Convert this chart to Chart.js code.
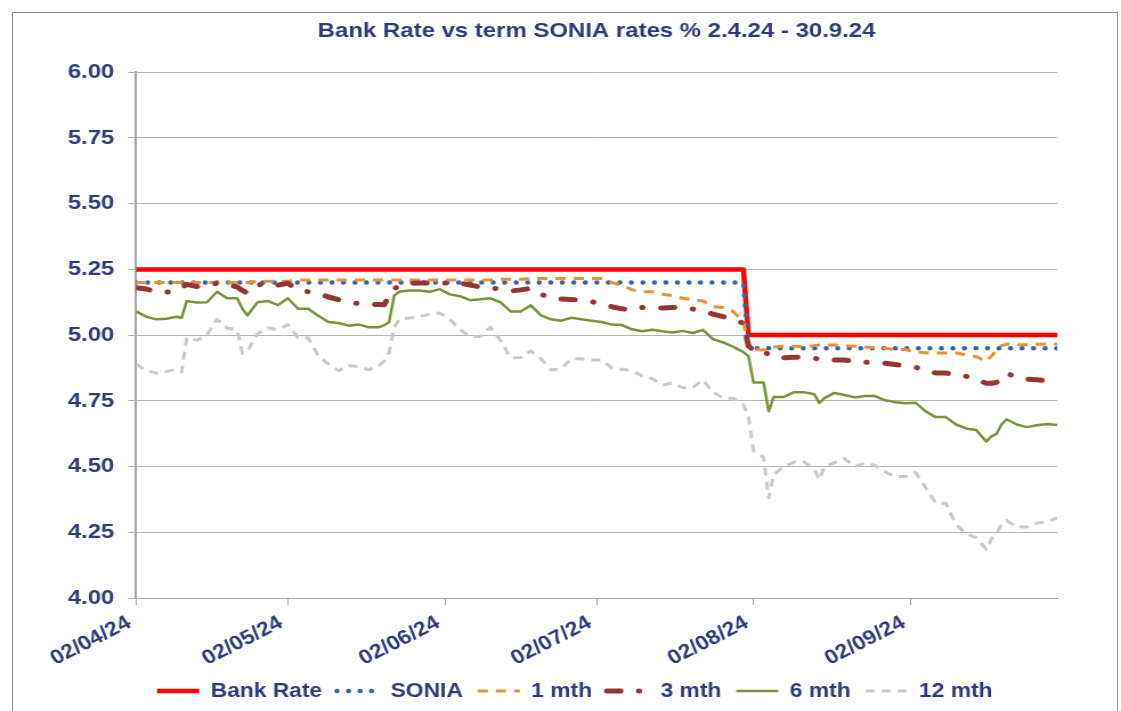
<!DOCTYPE html>
<html>
<head>
<meta charset="utf-8">
<title>Bank Rate vs term SONIA rates</title>
<script src="https://cdn.jsdelivr.net/npm/chart.js@4.4.1/dist/chart.umd.min.js"></script>
<style>
  html, body { margin: 0; padding: 0; background: #ffffff; overflow: hidden; }
  #wrap { position: relative; width: 1121px; height: 711px; }
  /* the source picture is stretched sideways, so the canvas is too */
  #chart { position: absolute; left: 0; top: 0; transform: scaleX(1.1404); transform-origin: 0 0; }
  #frame { position: absolute; left: 12px; top: 12px; width: 1104px; height: 720px;
           border: 1px solid #8c8c8c; pointer-events: none; }
</style>
</head>
<body>
<div id="wrap">
  <canvas id="chart" width="983" height="711"></canvas>
  <div id="frame"></div>
</div>
<script>
// x values are days after 02/04/24
const dayOffsets = [
  0, 2, 4, 6, 8, 9, 10, 12, 14, 16,
  18, 20, 21, 22, 24, 26, 28, 30, 32, 34,
  36, 38, 40, 42, 44, 46, 48, 49, 50, 51,
  52, 54, 56, 58, 60, 62, 64, 66, 68, 70,
  72, 74, 76, 78, 80, 82, 84, 86, 88, 90,
  92, 94, 96, 98, 100, 102, 104, 106, 108, 110,
  112, 114, 116, 118, 120, 121, 122, 124, 125, 126,
  128, 130, 132, 134, 135, 136, 138, 140, 142, 144,
  146, 148, 150, 152, 154, 156, 158, 160, 162, 164,
  166, 168, 169, 170, 171, 172, 174, 176, 178, 180,
  182
];

const tickDays = [0, 30, 61, 91, 122, 153];
const tickLabels = ["02/04/24", "02/05/24", "02/06/24", "02/07/24", "02/08/24", "02/09/24"];

const bankRate = [
  5.25, 5.25, 5.25, 5.25, 5.25, 5.25, 5.25, 5.25, 5.25, 5.25,
  5.25, 5.25, 5.25, 5.25, 5.25, 5.25, 5.25, 5.25, 5.25, 5.25,
  5.25, 5.25, 5.25, 5.25, 5.25, 5.25, 5.25, 5.25, 5.25, 5.25,
  5.25, 5.25, 5.25, 5.25, 5.25, 5.25, 5.25, 5.25, 5.25, 5.25,
  5.25, 5.25, 5.25, 5.25, 5.25, 5.25, 5.25, 5.25, 5.25, 5.25,
  5.25, 5.25, 5.25, 5.25, 5.25, 5.25, 5.25, 5.25, 5.25, 5.25,
  5.25, 5.25, 5.25, 5.25, 5.25, 5.00, 5.00, 5.00, 5.00, 5.00,
  5.00, 5.00, 5.00, 5.00, 5.00, 5.00, 5.00, 5.00, 5.00, 5.00,
  5.00, 5.00, 5.00, 5.00, 5.00, 5.00, 5.00, 5.00, 5.00, 5.00,
  5.00, 5.00, 5.00, 5.00, 5.00, 5.00, 5.00, 5.00, 5.00, 5.00,
  5.00
];

const sonia = [
  5.20, 5.20, 5.20, 5.20, 5.20, 5.20, 5.20, 5.20, 5.20, 5.20,
  5.20, 5.20, 5.20, 5.20, 5.20, 5.20, 5.20, 5.20, 5.20, 5.20,
  5.20, 5.20, 5.20, 5.20, 5.20, 5.20, 5.20, 5.20, 5.20, 5.20,
  5.20, 5.20, 5.20, 5.20, 5.20, 5.20, 5.20, 5.20, 5.20, 5.20,
  5.20, 5.20, 5.20, 5.20, 5.20, 5.20, 5.20, 5.20, 5.20, 5.20,
  5.20, 5.20, 5.20, 5.20, 5.20, 5.20, 5.20, 5.20, 5.20, 5.20,
  5.20, 5.20, 5.20, 5.20, 5.20, 4.95, 4.95, 4.95, 4.95, 4.95,
  4.95, 4.95, 4.95, 4.95, 4.95, 4.95, 4.95, 4.95, 4.95, 4.95,
  4.95, 4.95, 4.95, 4.95, 4.95, 4.95, 4.95, 4.95, 4.95, 4.95,
  4.95, 4.95, 4.95, 4.95, 4.95, 4.95, 4.95, 4.95, 4.95, 4.95,
  4.95
];

const oneMonth = [
  5.20, 5.20, 5.20, 5.20, 5.20, 5.20, 5.20, 5.20, 5.20, 5.20,
  5.20, 5.20, 5.20, 5.20, 5.205, 5.205, 5.205, 5.205, 5.21, 5.21,
  5.21, 5.21, 5.21, 5.21, 5.21, 5.21, 5.21, 5.21, 5.21, 5.21,
  5.21, 5.21, 5.21, 5.21, 5.21, 5.21, 5.21, 5.21, 5.21, 5.21,
  5.212, 5.212, 5.212, 5.215, 5.215, 5.215, 5.215, 5.215, 5.215, 5.215,
  5.215, 5.20, 5.19, 5.172, 5.165, 5.165, 5.155, 5.15, 5.14, 5.135,
  5.13, 5.108, 5.105, 5.09, 5.05, 4.96, 4.945, 4.943, 4.95, 4.955,
  4.958, 4.958, 4.955, 4.96, 4.962, 4.962, 4.962, 4.96, 4.958, 4.955,
  4.952, 4.95, 4.945, 4.945, 4.935, 4.933, 4.932, 4.932, 4.932, 4.925,
  4.918, 4.90, 4.92, 4.943, 4.96, 4.966, 4.963, 4.963, 4.965, 4.966,
  4.966
];

const threeMonth = [
  5.18, 5.175, 5.165, 5.163, 5.17, 5.18, 5.193, 5.185, 5.19, 5.197,
  5.192, 5.183, 5.17, 5.16, 5.19, 5.198, 5.19, 5.197, 5.172, 5.165,
  5.158, 5.145, 5.135, 5.125, 5.12, 5.118, 5.116, 5.115, 5.15, 5.175,
  5.19, 5.197, 5.198, 5.198, 5.198, 5.198, 5.198, 5.19, 5.183, 5.18,
  5.175, 5.168, 5.172, 5.178, 5.155, 5.142, 5.137, 5.135, 5.133, 5.127,
  5.118, 5.108, 5.10, 5.095, 5.105, 5.105, 5.103, 5.105, 5.106, 5.099,
  5.09, 5.08, 5.07, 5.06, 5.045, 4.96, 4.94, 4.94, 4.925, 4.915,
  4.914, 4.916, 4.915, 4.912, 4.908, 4.906, 4.905, 4.905, 4.90, 4.897,
  4.895, 4.893, 4.888, 4.884, 4.878, 4.865, 4.856, 4.856, 4.848, 4.843,
  4.83, 4.817, 4.817, 4.82, 4.84, 4.855, 4.84, 4.832, 4.83, 4.826,
  4.821
];

const sixMonth = [
  5.09, 5.07, 5.06, 5.062, 5.07, 5.065, 5.13, 5.124, 5.125, 5.165,
  5.14, 5.14, 5.10, 5.075, 5.125, 5.13, 5.114, 5.14, 5.10, 5.10,
  5.074, 5.05, 5.046, 5.036, 5.04, 5.03, 5.03, 5.037, 5.05, 5.15,
  5.165, 5.17, 5.17, 5.165, 5.175, 5.155, 5.148, 5.133, 5.136, 5.14,
  5.125, 5.09, 5.09, 5.113, 5.075, 5.06, 5.055, 5.066, 5.06, 5.055,
  5.05, 5.04, 5.038, 5.022, 5.015, 5.02, 5.015, 5.01, 5.016, 5.008,
  5.02, 4.985, 4.972, 4.955, 4.935, 4.92, 4.82, 4.82, 4.71, 4.765,
  4.765, 4.783, 4.783, 4.775, 4.742, 4.76, 4.78, 4.772, 4.763, 4.768,
  4.768, 4.752, 4.745, 4.741, 4.743, 4.71, 4.688, 4.688, 4.66, 4.645,
  4.639, 4.595, 4.615, 4.624, 4.66, 4.68, 4.66, 4.65, 4.657, 4.662,
  4.658
];

const twelveMonth = [
  4.89, 4.865, 4.855, 4.862, 4.87, 4.86, 4.99, 4.98, 5.00, 5.06,
  5.027, 5.02, 4.93, 4.94, 5.005, 5.028, 5.02, 5.04, 4.99, 4.99,
  4.92, 4.89, 4.865, 4.883, 4.88, 4.868, 4.885, 4.90, 4.935, 5.03,
  5.06, 5.065, 5.07, 5.08, 5.084, 5.06, 5.02, 4.995, 4.995, 5.03,
  4.98, 4.913, 4.915, 4.94, 4.91, 4.867, 4.872, 4.91, 4.91, 4.905,
  4.905, 4.875, 4.87, 4.865, 4.845, 4.834, 4.81, 4.818, 4.80, 4.80,
  4.83, 4.783, 4.76, 4.76, 4.735, 4.69, 4.56, 4.535, 4.38, 4.47,
  4.50, 4.517, 4.517, 4.49, 4.45, 4.50, 4.515, 4.53, 4.50, 4.513,
  4.505, 4.48, 4.462, 4.462, 4.478, 4.42, 4.362, 4.36, 4.28, 4.245,
  4.23, 4.185, 4.225, 4.245, 4.28, 4.295, 4.27, 4.27, 4.285, 4.29,
  4.305
];

const navy = "#2E3A7A";
const axisGrey = "#A6A6A6";

Chart.defaults.font.family = "'Liberation Sans', Arial, sans-serif";
Chart.defaults.font.weight = "bold";
Chart.defaults.color = navy;

// pair each value with its day
function toPoints(values) {
  return dayOffsets.map(function (d, i) {
    return { x: d, y: values[i] };
  });
}

function makeSeries(label, values, color, width, dash, cap, order) {
  return {
    label: label,
    data: toPoints(values),
    borderColor: color,
    backgroundColor: color,
    borderWidth: width,
    borderDash: dash,
    borderCapStyle: cap,
    borderJoinStyle: "round",
    pointRadius: 0,
    pointHoverRadius: 0,
    tension: 0,
    order: order,
  };
}

// legend samples copy each line's own dash and cap
function legendItems(chart) {
  return chart.data.datasets.map(function (ds, i) {
    return {
      text: ds.label,
      fillStyle: ds.borderColor,
      strokeStyle: ds.borderColor,
      lineWidth: ds.borderWidth,
      lineDash: ds.borderDash,
      lineCap: ds.borderCapStyle,
      lineJoin: "round",
      pointStyle: "line",
      fontColor: navy,
      hidden: false,
      datasetIndex: i,
    };
  });
}

// the legend row sits a little right of the page centre in the original
const legendNudge = {
  id: "legendNudge",
  afterLayout: function (chart) {
    if (chart.legend) {
      chart.legend.left += 28;
      chart.legend.right += 28;
    }
  },
};

const ctx = document.getElementById("chart").getContext("2d");

new Chart(ctx, {
  type: "line",
  data: {
    datasets: [
      makeSeries("Bank Rate", bankRate, "#FF0000", 4.5, [], "butt", 6),
      makeSeries("SONIA", sonia, "#3366A8", 4.5, [0.1, 10], "round", 5),
      makeSeries("1 mth", oneMonth, "#E8913A", 3, [9, 7], "butt", 4),
      makeSeries("3 mth", threeMonth, "#943634", 5, [12, 16, 0.5, 16], "round", 3),
      makeSeries("6 mth", sixMonth, "#77933C", 2.5, [], "butt", 2),
      makeSeries("12 mth", twelveMonth, "#C8C8C8", 3, [8, 6], "butt", 1),
    ],
  },
  plugins: [legendNudge],
  options: {
    responsive: false,
    devicePixelRatio: 1,
    animation: false,
    layout: {
      padding: { left: 25, right: 56, top: 0, bottom: 0 },
    },
    plugins: {
      title: {
        display: true,
        text: "Bank Rate vs term SONIA rates % 2.4.24 - 30.9.24",
        color: navy,
        fullSize: false,
        font: { size: 21, weight: "bold" },
        padding: { top: 19, bottom: 28 },
      },
      legend: {
        position: "bottom",
        labels: {
          usePointStyle: true,
          pointStyle: "line",
          pointStyleWidth: 37,
          padding: 13,
          color: navy,
          font: { size: 20, weight: "bold" },
          generateLabels: legendItems,
        },
      },
      tooltip: { enabled: false },
    },
    scales: {
      x: {
        type: "linear",
        min: 0,
        max: 182,
        afterBuildTicks: function (scale) {
          scale.ticks = tickDays.map(function (d) {
            return { value: d };
          });
        },
        afterFit: function (scale) {
          scale.height = 70;
          scale.paddingLeft = 0;
          scale.paddingRight = 0;
        },
        ticks: {
          autoSkip: false,
          minRotation: 30,
          maxRotation: 30,
          padding: 6,
          labelOffset: -6,
          color: navy,
          font: { size: 20, weight: "bold" },
          callback: function (value, index) {
            return tickLabels[index];
          },
        },
        grid: {
          drawOnChartArea: false,
          drawTicks: true,
          tickLength: 7,
          color: axisGrey,
        },
        border: { display: true, color: axisGrey, width: 1 },
      },
      y: {
        min: 4,
        max: 6,
        afterFit: function (scale) {
          scale.width = 94.3;
        },
        ticks: {
          stepSize: 0.25,
          padding: 12,
          color: navy,
          font: { size: 21, weight: "bold" },
          callback: function (value) {
            return value.toFixed(2);
          },
        },
        grid: {
          color: "#B4B4B4",
          lineWidth: 1,
          tickLength: 7,
        },
        border: { display: true, color: axisGrey, width: 2 },
      },
    },
  },
});
</script>
</body>
</html>
